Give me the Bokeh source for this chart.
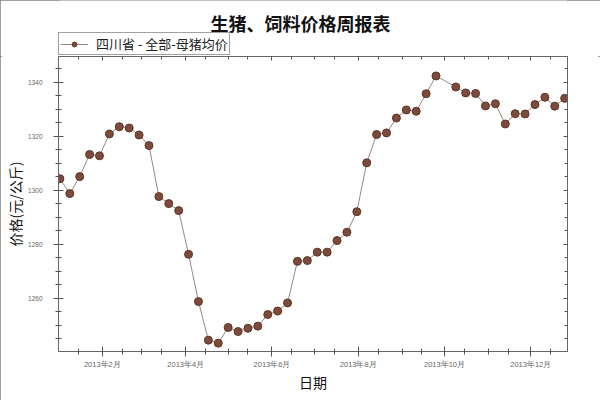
import pandas as pd
from bokeh.plotting import figure
from bokeh.layouts import column
from bokeh.models import (FixedTicker, SingleIntervalTicker, LinearAxis, DatetimeAxis,
                          Range1d, Legend, LegendItem, ColumnDataSource, Label)
from bokeh.embed import file_html
from bokeh.resources import INLINE

dates = ["2013-01-02", "2013-01-09", "2013-01-16", "2013-01-23", "2013-01-30",
         "2013-02-06", "2013-02-13", "2013-02-20", "2013-02-27", "2013-03-06",
         "2013-03-13", "2013-03-20", "2013-03-27", "2013-04-03", "2013-04-10",
         "2013-04-17", "2013-04-24", "2013-05-01", "2013-05-08", "2013-05-15",
         "2013-05-22", "2013-05-29", "2013-06-05", "2013-06-12", "2013-06-19",
         "2013-06-26", "2013-07-03", "2013-07-10", "2013-07-17", "2013-07-24",
         "2013-07-31", "2013-08-07", "2013-08-14", "2013-08-21", "2013-08-28",
         "2013-09-04", "2013-09-11", "2013-09-18", "2013-09-25",
         "2013-10-09", "2013-10-16", "2013-10-23", "2013-10-30", "2013-11-06",
         "2013-11-13", "2013-11-20", "2013-11-27", "2013-12-04", "2013-12-11",
         "2013-12-18", "2013-12-25"]
prices = [1304.2, 1298.7, 1305.0, 1313.2, 1312.7,
          1320.8, 1323.5, 1323.0, 1320.4, 1316.5,
          1297.6, 1295.0, 1292.4, 1276.2, 1258.7,
          1244.4, 1243.3, 1249.1, 1247.6, 1248.8,
          1249.6, 1253.9, 1255.2, 1258.2, 1273.6,
          1273.9, 1277.0, 1277.0, 1281.3, 1284.4,
          1292.0, 1310.1, 1320.6, 1321.2, 1326.7,
          1329.7, 1329.2, 1335.7, 1342.3,
          1338.2, 1336.0, 1335.8, 1331.2, 1332.0,
          1324.5, 1328.3, 1328.2, 1331.7, 1334.4,
          1331.1, 1334.0]

series_name = "四川省 - 全部-母猪均价"
title_text = "生猪、饲料价格周报表"
x_title = "日期"
y_title = "价格(元/公斤)"

tick_dates = ["2013-02-01", "2013-04-01", "2013-06-01", "2013-08-01", "2013-10-01", "2013-12-01"]
tick_labels = ["2013年2月", "2013年4月", "2013年6月", "2013年8月", "2013年10月", "2013年12月"]
minor_dates = ["2013-01-15", "2013-02-01", "2013-02-15", "2013-03-01", "2013-03-15",
               "2013-04-01", "2013-04-15", "2013-05-01", "2013-05-15", "2013-06-01",
               "2013-06-15", "2013-07-01", "2013-07-15", "2013-08-01", "2013-08-15",
               "2013-09-01", "2013-09-15", "2013-10-01", "2013-10-15", "2013-11-01",
               "2013-11-15", "2013-12-01", "2013-12-15"]
x_start, x_end = "2013-01-01", "2013-12-27"
y_start, y_end = 1240.2, 1349.5

LINE_COLOR = "#9a8882"
DOT_FILL = "#7b4b3b"
DOT_LINE = "#5e3528"


def ms(d):
    return float(pd.Timestamp(d).value // 10**6)


src = ColumnDataSource(dict(x=pd.to_datetime(dates), y=prices))

# ---------- header: title + legend (frame is aligned with the chart frame) ----------
head = figure(width=600, height=56, output_backend="svg", toolbar_location=None,
              title=None, x_axis_location=None, y_axis_location=None,
              x_range=Range1d(0, 1), y_range=Range1d(0, 1),
              min_border=0, min_border_left=0, min_border_right=0,
              min_border_top=0, min_border_bottom=0)
head.grid.visible = False
head.outline_line_color = None
head.background_fill_color = "white"
head.border_fill_color = "white"

# same series, outside the header's ranges: only used to draw the legend glyph
hl = head.line("x", "y", source=src, line_color=LINE_COLOR, line_width=1)
hs = head.scatter("x", "y", source=src, size=8, fill_color=DOT_FILL, line_color=DOT_LINE, line_width=1)

head.add_layout(Label(x=242, y=34, x_units="screen", y_units="screen", text=title_text,
                      text_align="center", text_baseline="middle",
                      text_font="Noto Sans CJK SC", text_font_size="18px",
                      text_font_style="bold", text_color="#111111"))

legend = Legend(items=[LegendItem(label=series_name, renderers=[hl, hs])],
                location=(0, 1), orientation="horizontal",
                border_line_color="#444444", border_line_width=1,
                background_fill_alpha=1.0, padding=1, margin=0, spacing=0,
                glyph_width=28, glyph_height=12, label_standoff=8, label_height=12,
                label_text_font="Noto Sans CJK SC", label_text_font_size="13px",
                label_text_color="#222222")
head.add_layout(legend, "center")

# ---------- main chart ----------
p = figure(width=600, height=344, x_axis_type="datetime", output_backend="svg",
           toolbar_location=None, title=None,
           x_range=Range1d(ms(x_start), ms(x_end)), y_range=Range1d(y_start, y_end),
           min_border_left=58, min_border_right=33, min_border_top=0, min_border_bottom=49)
p.background_fill_color = "white"
p.border_fill_color = "white"
p.grid.visible = False
p.outline_line_color = "#666666"
p.outline_line_width = 1

xt = FixedTicker(ticks=[ms(d) for d in tick_dates], minor_ticks=[ms(d) for d in minor_dates])
yt = SingleIntervalTicker(interval=20, num_minor_ticks=4)

xa = p.xaxis[0]
xa.ticker = xt
xa.major_label_overrides = {ms(d): lab for d, lab in zip(tick_dates, tick_labels)}
ya = p.yaxis[0]
ya.ticker = yt

for ax in (xa, ya):
    ax.axis_line_color = "#666666"
    ax.major_tick_line_color = "#555555"
    ax.minor_tick_line_color = "#555555"
    ax.major_tick_in = 5
    ax.major_tick_out = 5
    ax.minor_tick_in = 3
    ax.minor_tick_out = 3
    ax.major_label_text_font = "Liberation Sans"
    ax.major_label_text_color = "#666666"
    ax.axis_label_text_font = "Noto Sans CJK SC"
    ax.axis_label_text_font_style = "normal"
    ax.axis_label_text_color = "#111111"
    ax.axis_label_text_font_size = "14px"

xa.axis_label = x_title
xa.major_label_text_font_size = "7.5px"
xa.major_label_standoff = 3
xa.axis_label_standoff = 0
ya.axis_label = y_title
ya.major_label_text_font_size = "6.5px"
ya.major_label_standoff = 11
ya.axis_label_standoff = 0

top = DatetimeAxis(ticker=xt)
right = LinearAxis(ticker=yt)
for ax in (top, right):
    ax.axis_line_color = "#666666"
    ax.major_tick_line_color = "#555555"
    ax.minor_tick_line_color = "#555555"
    ax.major_tick_in = 4
    ax.major_tick_out = 0
    ax.minor_tick_in = 3
    ax.minor_tick_out = 0
    ax.major_label_text_font_size = "6px"
    ax.major_label_text_color = None
    ax.major_label_standoff = 0
p.add_layout(top, "above")
p.add_layout(right, "right")

ln = p.line("x", "y", source=src, line_color=LINE_COLOR, line_width=1)
sc = p.scatter("x", "y", source=src, size=8, fill_color=DOT_FILL, line_color=DOT_LINE, line_width=1)

page = column(head, p, spacing=0)
page.styles = {"outline": "2px solid #808080", "outline-offset": "-2px"}

open("out.html", "w").write(file_html(page, INLINE))
